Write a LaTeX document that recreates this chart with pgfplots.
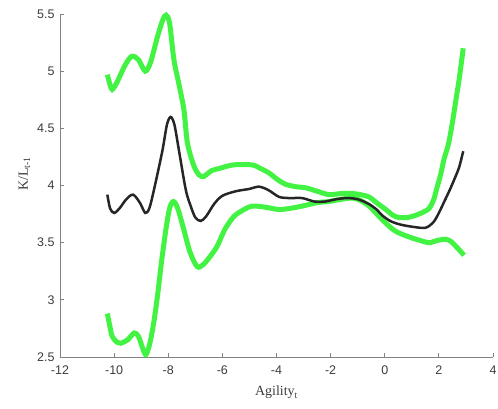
\documentclass[border=0pt]{standalone}
\usepackage{fontspec}
\setmainfont{Liberation Serif}
\newfontfamily\arialf{Liberation Sans}
\usepackage{pgfplots}
\pgfplotsset{compat=1.18}
\definecolor{bandgreen}{RGB}{20,240,20}
\definecolor{axgray}{RGB}{130,130,130}
\definecolor{txtgray}{RGB}{60,60,60}
\begin{document}
\begin{tikzpicture}
\useasboundingbox (-60pt,-51pt) rectangle (438pt,357pt);
\begin{axis}[
  scale only axis, width=433pt, height=343pt,
  xmin=-12, xmax=4, ymin=2.5, ymax=5.5,
  axis x line*=bottom, axis y line*=left,
  axis line style={color=axgray, line width=0.8pt},
  tick style={color=axgray, line width=0.8pt},
  major tick length=4pt, tick align=inside,
  xtick={-12,-10,...,4}, ytick={2.5,3,3.5,4,4.5,5,5.5},
  /pgf/number format/assume math mode=true,
  tick label style={font=\arialf\fontsize{12.5}{14}\selectfont, text=txtgray},
  xticklabel style={yshift=-5pt},
  yticklabel style={xshift=-2pt},
  xlabel={Agility\textsubscript{t}},
  ylabel={K/L\textsubscript{t-1}},
  label style={font=\fontsize{14}{16}\selectfont, text=txtgray},
  xlabel style={yshift=-5pt},
  ylabel style={at={(ticklabel cs:0.534)}},
  clip=false,
]
% upper band
\addplot[color=bandgreen, line width=5pt, opacity=0.8, smooth, tension=0.5] coordinates {
(-10.25,4.97) (-10.15,4.88) (-10.07,4.84) (-9.9,4.90) (-9.6,5.05) (-9.35,5.13)
(-9.1,5.10) (-8.85,5.00) (-8.65,5.08) (-8.4,5.30) (-8.2,5.45) (-8.08,5.49)
(-7.95,5.42) (-7.79,5.10) (-7.6,4.88) (-7.42,4.66) (-7.29,4.37) (-7.05,4.17) (-6.85,4.09)
(-6.68,4.08) (-6.4,4.13) (-6.1,4.15) (-5.6,4.18) (-4.9,4.18) (-4.6,4.15)
(-4.28,4.11) (-3.95,4.05) (-3.66,4.01) (-3.3,3.99) (-2.92,3.98) (-2.5,3.95)
(-2.06,3.92) (-1.6,3.93) (-1.2,3.93) (-0.9,3.92) (-0.58,3.90) (-0.25,3.84)
(0.04,3.79) (0.3,3.74) (0.53,3.72) (0.85,3.72) (1.15,3.74) (1.45,3.77)
(1.64,3.80) (1.8,3.87) (1.94,3.99) (2.07,4.10) (2.19,4.23) (2.35,4.36)
(2.5,4.55) (2.65,4.78) (2.75,4.93) (2.9,5.20)
};
% lower band
\addplot[color=bandgreen, line width=5pt, opacity=0.8, smooth, tension=0.5] coordinates {
(-10.25,2.88) (-10.15,2.76) (-10.07,2.68) (-9.9,2.63) (-9.76,2.62) (-9.5,2.65)
(-9.26,2.71) (-9.1,2.68) (-8.95,2.58) (-8.83,2.52) (-8.7,2.60) (-8.55,2.78)
(-8.4,3.03) (-8.25,3.33) (-8.09,3.61) (-7.95,3.80) (-7.81,3.86) (-7.65,3.80)
(-7.42,3.61) (-7.2,3.42) (-6.93,3.29) (-6.7,3.31) (-6.45,3.38) (-6.19,3.47)
(-5.9,3.62) (-5.57,3.73) (-5.2,3.79) (-4.89,3.82) (-4.4,3.81) (-3.91,3.79)
(-3.5,3.80) (-3.05,3.82) (-2.5,3.85) (-2.06,3.86) (-1.6,3.88) (-1.2,3.89)
(-0.9,3.87) (-0.58,3.82) (-0.25,3.74) (0.04,3.67) (0.4,3.60) (0.9,3.55)
(1.3,3.52) (1.64,3.50) (1.95,3.52) (2.25,3.53) (2.45,3.51) (2.62,3.47)
(2.78,3.43) (2.93,3.39)
};
% point estimate
\addplot[color=black!85, line width=2.5pt, smooth, tension=0.5] coordinates {
(-10.25,3.92) (-10.15,3.80) (-10.0,3.76) (-9.8,3.80) (-9.55,3.88) (-9.3,3.92)
(-9.05,3.85) (-8.85,3.76) (-8.7,3.80) (-8.53,3.96) (-8.22,4.30) (-8.05,4.53)
(-7.91,4.60) (-7.77,4.53) (-7.6,4.30) (-7.35,3.96) (-7.17,3.82) (-7.0,3.72)
(-6.8,3.69) (-6.6,3.73) (-6.3,3.84) (-6.0,3.91) (-5.5,3.95) (-5.0,3.97)
(-4.65,3.99) (-4.3,3.96) (-3.9,3.90) (-3.5,3.89) (-3.05,3.89) (-2.6,3.86)
(-2.2,3.86) (-1.8,3.88) (-1.4,3.89) (-1.0,3.88) (-0.6,3.84) (-0.3,3.79)
(-0.1,3.74) (0.2,3.69) (0.55,3.66) (1.0,3.64) (1.5,3.63) (1.8,3.68)
(2.0,3.76) (2.2,3.86) (2.4,3.96) (2.6,4.07) (2.75,4.16) (2.9,4.30)
};
\end{axis}
\end{tikzpicture}
\end{document}
